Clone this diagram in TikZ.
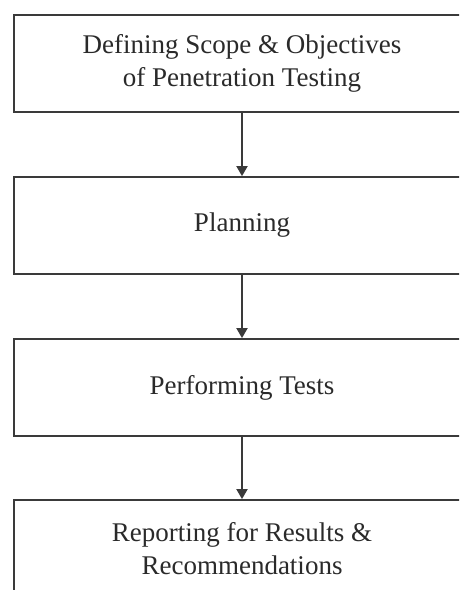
\documentclass[tikz,border=0pt]{standalone}
\usepackage{fontspec}
\setmainfont{Liberation Serif}
\usetikzlibrary{arrows.meta}
\definecolor{linegray}{HTML}{3A3A3A}
\definecolor{textgray}{HTML}{2A2A2A}
\tikzset{
  stagebox/.style={draw=linegray, line width=1.8pt, rectangle, minimum width=456pt, minimum height=97pt,
    align=center, text=textgray, font=\fontsize{27pt}{33pt}\selectfont, inner sep=0pt},
  flowarrow/.style={draw=linegray, line width=1.8pt, -{Triangle[length=10pt,width=11pt]}}
}
\begin{document}
\begin{tikzpicture}[x=1pt,y=-1pt]
\useasboundingbox (0,0) rectangle (459,590);
\clip (0,0) rectangle (459,590);
\fill[white] (0,0) rectangle (459,590);
\node[stagebox] (b1) at (242,63.5) {Defining Scope \& Objectives\\of Penetration Testing};
\node[stagebox] (b2) at (242,225.5) {Planning};
\node[stagebox] (b3) at (242,387.5) {Performing Tests};
\node[stagebox] (b4) at (242,548.5) {Reporting for Results \&\\Recommendations};
\draw[flowarrow] (b1.south) -- (b2.north);
\draw[flowarrow] (b2.south) -- (b3.north);
\draw[flowarrow] (b3.south) -- (b4.north);
\end{tikzpicture}
\end{document}
